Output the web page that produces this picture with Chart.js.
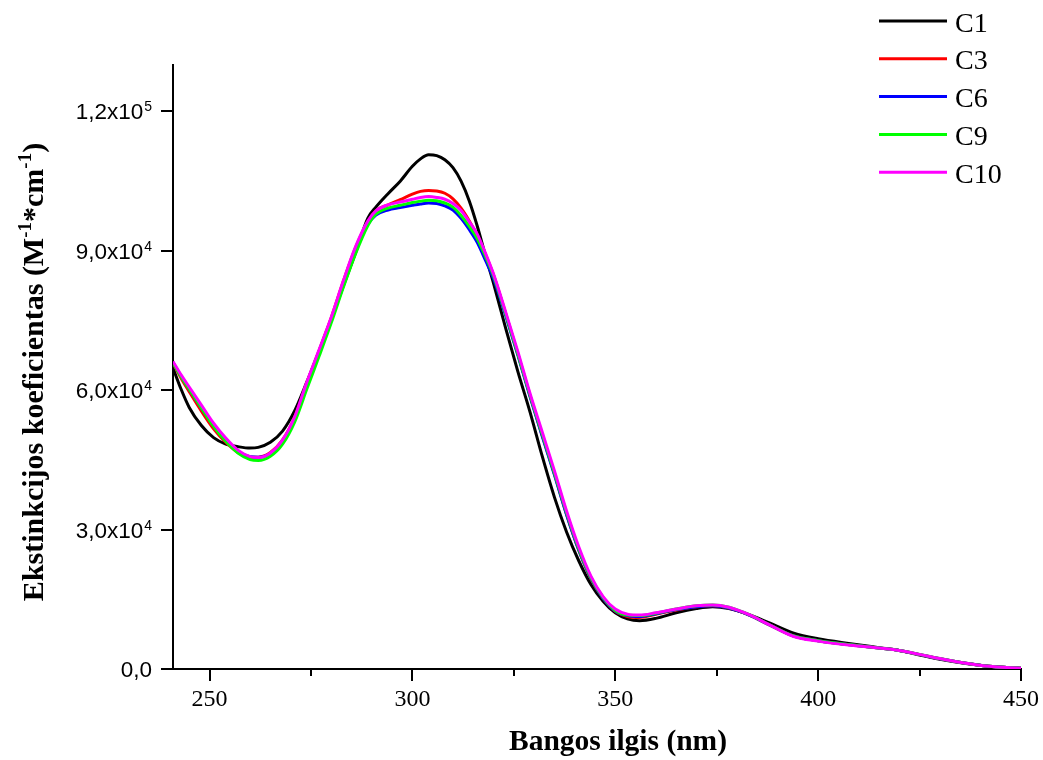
<!DOCTYPE html>
<html>
<head>
<meta charset="utf-8">
<script src="https://cdn.jsdelivr.net/npm/chart.js@4.4.1/dist/chart.umd.min.js"></script>
<style>
  html, body { margin: 0; padding: 0; background: #fff; }
  #wrap { width: 1043px; height: 760px; }
</style>
</head>
<body>
<div id="wrap"><canvas id="c" width="1043" height="760"></canvas></div>
<script>
// Wavelength grid (nm)
const wavelength = [241,243,245,248,251,254,257,260,262,265,268,271,274,277,280,283,286,289,291,294,
                    297,300,302,304,306,308,310,312,314,316,318,320,323,326,329,332,335,338,341,344,
                    347,350,353,356,360,365,370,374,378,383,388,394,400,408,415,420,425,430,436,442,450];

// Extinction coefficient (M^-1 cm^-1) for each compound
const C1 = [64800,60200,56300,52400,49800,48400,47850,47550,47700,48800,51200,55600,61800,68400,75300,82500,89600,97000,99400,102300,
            105000,108200,109800,110700,110500,109600,107900,105000,100800,95300,89000,83000,73300,64000,55300,45800,37000,29500,23300,18200,
            14600,12100,10800,10400,10900,12100,13000,13400,13000,11700,9900,7700,6500,5450,4600,4000,3000,2100,1250,600,150];
const C3 = [65900,62600,59700,55500,51700,48800,46600,45600,45600,46600,49300,54200,61600,68500,75600,83500,90700,96200,98600,99900,
            101000,102200,102800,103000,102900,102400,101200,99200,96500,93300,89300,84800,76500,67800,58800,50300,42000,33300,25600,19400,
            15200,12400,11300,11100,11800,12700,13400,13600,13100,11600,9500,7100,6100,5200,4500,4000,3100,2200,1300,600,150];
const C6 = [66000,63000,60200,56200,52300,49200,46800,45700,45600,46400,49000,53800,61000,67900,75000,82800,90000,95700,97700,98800,
            99300,99800,100100,100300,100200,99700,98800,97000,94600,91800,88000,84000,76000,67500,58600,50100,41800,33200,25600,19500,
            15200,12500,11500,11300,11900,12800,13400,13600,13100,11600,9500,7100,6100,5200,4500,4000,3100,2200,1300,600,150];
const C9 = [65900,62900,60200,56200,52200,49000,46500,45100,44900,45800,48400,53200,60300,67300,74500,82200,89400,95400,97900,99200,
            99800,100400,100700,100900,100800,100300,99400,97600,95300,92600,88800,84600,76400,67800,58900,50500,42200,33600,25900,19700,
            15400,12600,11600,11500,12000,12900,13600,13800,13300,11700,9500,7100,6100,5200,4500,4000,3150,2250,1300,600,150];
const C10 = [66200,63300,60700,56800,52900,49700,47100,45700,45500,46500,49300,54300,61800,68700,75700,83600,90900,96400,98600,99900,
             100500,101100,101500,101700,101500,101100,100200,98700,96300,93600,89500,85000,76800,68300,59300,51000,42700,34000,26300,20000,
             15600,12900,11800,11600,12100,12900,13600,13800,13300,11700,9500,7000,6000,5100,4500,4000,3150,2250,1300,600,150];

const seriesNames = ['C1', 'C3', 'C6', 'C9', 'C10'];
const seriesValues = [C1, C3, C6, C9, C10];
const seriesColors = ['#000000', '#ff0000', '#0000ff', '#00ff00', '#ff00ff'];

// Axis ticks
const xTicks = [250, 300, 350, 400, 450];
const xMinorTicks = [275, 325, 375, 425];
const yTicks = [0, 30000, 60000, 90000, 120000];
const yTickText = ['0,0', '3,0x10', '6,0x10', '9,0x10', '1,2x10'];
const yTickExp = ['', '4', '4', '4', '5'];

const datasets = seriesNames.map((name, k) => ({
  label: name,
  data: wavelength.map((w, i) => ({ x: w, y: seriesValues[k][i] })),
  borderColor: seriesColors[k],
  backgroundColor: seriesColors[k],
  borderWidth: 3,
  pointRadius: 0,
  cubicInterpolationMode: 'monotone',
  fill: false,
  order: seriesNames.length - k
}));

const SERIF = '"Liberation Serif", "Times New Roman", serif';
const SANS = '"Liberation Sans", Arial, sans-serif';

// Draws text pieces in sequence, raising the superscript ones
function drawRich(ctx, parts, x, y, align) {
  let total = 0;
  parts.forEach(p => { ctx.font = p.font; total += ctx.measureText(p.text).width; });
  let cx = align === 'center' ? x - total / 2 : (align === 'right' ? x - total : x);
  ctx.textAlign = 'left';
  parts.forEach(p => {
    ctx.font = p.font;
    ctx.fillText(p.text, cx, y - (p.rise || 0));
    cx += ctx.measureText(p.text).width;
  });
}

const decor = {
  id: 'decor',
  afterDraw(chart) {
    const { ctx, chartArea } = chart;
    const xs = chart.scales.x, ys = chart.scales.y;
    ctx.save();
    ctx.fillStyle = '#000';
    ctx.strokeStyle = '#000';

    // minor ticks on the wavelength axis
    ctx.lineWidth = 2;
    xMinorTicks.forEach(v => {
      const px = Math.round(xs.getPixelForValue(v));
      ctx.beginPath();
      ctx.moveTo(px, chartArea.bottom);
      ctx.lineTo(px, chartArea.bottom + 7);
      ctx.stroke();
    });

    // y tick labels with exponents
    ctx.textBaseline = 'alphabetic';
    const labelRight = chartArea.left - 21;
    yTicks.forEach((v, i) => {
      const py = ys.getPixelForValue(v);
      ctx.font = '14px ' + SANS;
      const ew = yTickExp[i] ? ctx.measureText(yTickExp[i]).width : 0;
      if (yTickExp[i]) {
        ctx.textAlign = 'right';
        ctx.fillText(yTickExp[i], labelRight, py);
      }
      ctx.font = '22.5px ' + SANS;
      ctx.textAlign = 'right';
      ctx.fillText(yTickText[i], labelRight - ew - (ew ? 1 : 0), py + 8);
    });

    // axis titles
    drawRich(ctx, [{ text: 'Bangos ilgis (nm)', font: 'bold 29.5px ' + SERIF }], 618, 750, 'center');

    ctx.save();
    ctx.translate(43, 372);
    ctx.rotate(-Math.PI / 2);
    const tf = 'bold 30px ' + SERIF, sf = 'bold 19px ' + SERIF;
    drawRich(ctx, [
      { text: 'Ekstinkcijos koeficientas (M', font: tf },
      { text: '-1', font: sf, rise: 12 },
      { text: '*cm', font: tf },
      { text: '-1', font: sf, rise: 12 },
      { text: ')', font: tf }
    ], 0, 0, 'center');
    ctx.restore();

    // legend
    ctx.lineWidth = 3;
    chart.data.datasets.forEach((ds, i) => {
      const ly = 21 + i * 37.8;
      ctx.strokeStyle = ds.borderColor;
      ctx.beginPath();
      ctx.moveTo(879, ly);
      ctx.lineTo(947, ly);
      ctx.stroke();
      ctx.font = '28px ' + SERIF;
      ctx.textAlign = 'left';
      ctx.fillStyle = '#000';
      ctx.fillText(ds.label, 955, ly + 10.5);
    });
    ctx.restore();
  }
};

new Chart(document.getElementById('c'), {
  type: 'line',
  data: { datasets },
  options: {
    responsive: false,
    devicePixelRatio: 1,
    animation: false,
    layout: { padding: { left: 0, right: 22, top: 65, bottom: 0 } },
    plugins: { legend: { display: false }, tooltip: { enabled: false } },
    scales: {
      x: {
        type: 'linear',
        min: 241,
        max: 450,
        afterBuildTicks: s => { s.ticks = xTicks.map(v => ({ value: v })); },
        afterFit: s => { s.height = 91; },
        grid: { drawOnChartArea: false, drawTicks: true, tickLength: 12, color: '#000', lineWidth: 2 },
        border: { display: true, color: '#000', width: 2 },
        ticks: { color: '#000', font: { family: SERIF, size: 24 }, padding: 4, maxRotation: 0, autoSkip: false }
      },
      y: {
        type: 'linear',
        min: 0,
        max: 130000,
        afterBuildTicks: s => { s.ticks = yTicks.map(v => ({ value: v })); },
        afterFit: s => { s.width = 173; },
        grid: { drawOnChartArea: false, drawTicks: true, tickLength: 12, color: '#000', lineWidth: 2 },
        border: { display: true, color: '#000', width: 2 },
        ticks: { display: false }
      }
    }
  },
  plugins: [decor]
});
</script>
</body>
</html>
